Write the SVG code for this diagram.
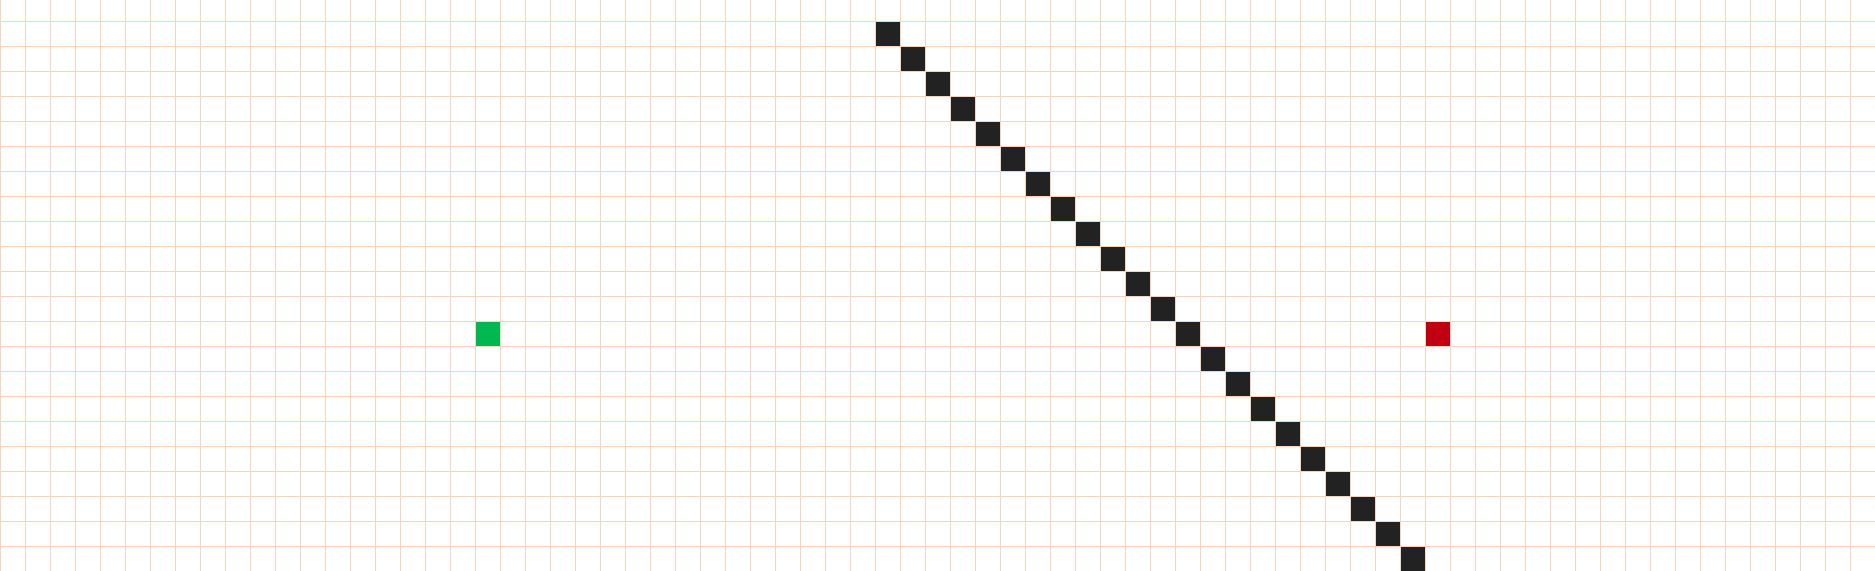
<svg xmlns="http://www.w3.org/2000/svg" width="1875" height="571" viewBox="0 0 1875 571">
<defs>
<pattern id="grid" patternUnits="userSpaceOnUse" x="0" y="21" width="25" height="25">
<rect x="0" y="0" width="25" height="25" fill="#ffffff"/>
<rect x="0" y="0" width="1" height="25" fill="#f9d3ba"/>
<rect x="0" y="0" width="25" height="1" fill="#f9d3ba"/>
</pattern>
</defs>
<style>
.wall{fill:#222222}
.start{fill:#00b84f}
.goal{fill:#c00010}
</style>
<rect id="background" x="0" y="0" width="1875" height="571" fill="url(#grid)"/>
<g id="wall">
<rect class="wall" x="876" y="22" width="24" height="24"/>
<rect class="wall" x="901" y="47" width="24" height="24"/>
<rect class="wall" x="926" y="72" width="24" height="24"/>
<rect class="wall" x="951" y="97" width="24" height="24"/>
<rect class="wall" x="976" y="122" width="24" height="24"/>
<rect class="wall" x="1001" y="147" width="24" height="24"/>
<rect class="wall" x="1026" y="172" width="24" height="24"/>
<rect class="wall" x="1051" y="197" width="24" height="24"/>
<rect class="wall" x="1076" y="222" width="24" height="24"/>
<rect class="wall" x="1101" y="247" width="24" height="24"/>
<rect class="wall" x="1126" y="272" width="24" height="24"/>
<rect class="wall" x="1151" y="297" width="24" height="24"/>
<rect class="wall" x="1176" y="322" width="24" height="24"/>
<rect class="wall" x="1201" y="347" width="24" height="24"/>
<rect class="wall" x="1226" y="372" width="24" height="24"/>
<rect class="wall" x="1251" y="397" width="24" height="24"/>
<rect class="wall" x="1276" y="422" width="24" height="24"/>
<rect class="wall" x="1301" y="447" width="24" height="24"/>
<rect class="wall" x="1326" y="472" width="24" height="24"/>
<rect class="wall" x="1351" y="497" width="24" height="24"/>
<rect class="wall" x="1376" y="522" width="24" height="24"/>
<rect class="wall" x="1401" y="547" width="24" height="24"/>
</g>
<g id="start"><rect class="start" x="476" y="322" width="24" height="24"/></g>
<g id="goal"><rect class="goal" x="1426" y="322" width="24" height="24"/></g>
<g id="connectors"></g>
</svg>
